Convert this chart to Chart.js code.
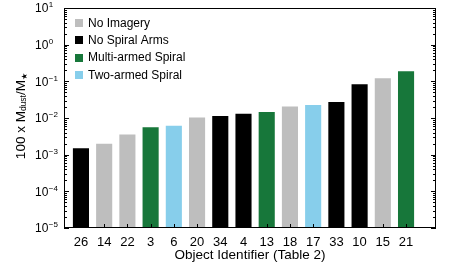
<!DOCTYPE html>
<html>
<head>
<meta charset="utf-8">
<script src="https://cdn.jsdelivr.net/npm/chart.js@4/dist/chart.umd.min.js"></script>
<style>
html,body{margin:0;padding:0;background:#fff;}
#wrap{width:471px;height:269px;position:relative;}
</style>
</head>
<body>
<div id="wrap"><canvas id="c" width="471" height="269"></canvas></div>
<script>
// ---- data ----
const objectIds = ['26','14','22','3','6','20','34','4','13','18','17','33','10','15','21'];
const dustRatio = [1.6e-3, 2.1e-3, 3.8e-3, 6.0e-3, 6.5e-3, 1.1e-2, 1.2e-2, 1.4e-2, 1.55e-2, 2.2e-2, 2.4e-2, 2.9e-2, 8.9e-2, 0.13, 0.20];
const morphology = ['No Spiral Arms','No Imagery','No Imagery','Multi-armed Spiral','Two-armed Spiral','No Imagery','No Spiral Arms','No Spiral Arms','Multi-armed Spiral','No Imagery','Two-armed Spiral','No Spiral Arms','No Spiral Arms','No Imagery','Multi-armed Spiral'];
const legendLabels = ['No Imagery','No Spiral Arms','Multi-armed Spiral','Two-armed Spiral'];
const yTickExponents = ['1','0','-1','-2','-3','-4','-5'];
const xTitle = 'Object Identifier (Table 2)';

// ---- styles ----
const typeColors = {
  'No Imagery':'#bebebe',
  'No Spiral Arms':'#000000',
  'Multi-armed Spiral':'#17773a',
  'Two-armed Spiral':'#87ceeb'
};
const FONT = '"Liberation Sans", Arial, Helvetica, sans-serif';

const points = dustRatio.map((v,i)=>({x:i, y:v}));

const decor = {
  id:'decor',
  afterDraw(chart){
    const ctx = chart.ctx;
    const {left,right,top,bottom} = chart.chartArea;
    const xs = chart.scales.x, ys = chart.scales.y;
    ctx.save();
    ctx.strokeStyle = '#000';
    ctx.lineWidth = 1;
    ctx.strokeRect(left+0.5, top+0.5, right-left-1, bottom-top-1);
    ctx.beginPath();
    for (let e=-5; e<=1; e++){
      const yp = Math.round(ys.getPixelForValue(Math.pow(10,e)))+0.5;
      ctx.moveTo(left, yp); ctx.lineTo(left+5, yp);
      ctx.moveTo(right, yp); ctx.lineTo(right-5, yp);
      if (e<1){
        for (let m=2;m<=9;m++){
          const yq = Math.round(ys.getPixelForValue(m*Math.pow(10,e)))+0.5;
          ctx.moveTo(left, yq); ctx.lineTo(left+3, yq);
          ctx.moveTo(right, yq); ctx.lineTo(right-3, yq);
        }
      }
    }
    objectIds.forEach((id,i)=>{
      const xp = Math.round(xs.getPixelForValue(i))+0.5;
      ctx.moveTo(xp, bottom); ctx.lineTo(xp, bottom-4);
    });
    ctx.stroke();

    ctx.fillStyle = '#000';
    ctx.font = '13px ' + FONT;
    ctx.textAlign = 'center';
    ctx.textBaseline = 'middle';
    objectIds.forEach((id,i)=>{
      ctx.fillText(id, xs.getPixelForValue(i), bottom+14);
    });
    ctx.font = '13.5px ' + FONT;
    ctx.fillText(xTitle, (left+right)/2, bottom+27);

    ctx.textAlign = 'left';
    yTickExponents.forEach(ex=>{
      const yp = ys.getPixelForValue(Math.pow(10, Number(ex)));
      ctx.font = '12px ' + FONT;
      ctx.textBaseline = 'middle';
      ctx.fillText('10', 35, yp+1);
      const w = ctx.measureText('10').width;
      ctx.font = '8px ' + FONT;
      ctx.fillText(ex.replace('-', '\u2212'), 35+w+0.5, yp-3);
    });

    ctx.save();
    ctx.translate(21, (top+bottom)/2 - 2);
    ctx.rotate(-Math.PI/2);
    const parts = [
      {t:'100 x M', f:'13.5px '+FONT, dy:0},
      {t:'dust', f:'8.5px '+FONT, dy:3},
      {t:'/M', f:'13.5px '+FONT, dy:0},
      {t:'\u2605', f:'8px "DejaVu Sans", sans-serif', dy:4}
    ];
    let total = 0;
    parts.forEach(p=>{ ctx.font=p.f; p.w=ctx.measureText(p.t).width; total+=p.w; });
    let cx = -total/2;
    ctx.textAlign='left';
    ctx.textBaseline='middle';
    parts.forEach(p=>{ ctx.font=p.f; ctx.fillText(p.t, cx, p.dy); cx+=p.w; });
    ctx.restore();

    ctx.font = '12px ' + FONT;
    ctx.textBaseline = 'middle';
    legendLabels.forEach((lab,k)=>{
      const cy = top + 14.7 + k*17.4;
      ctx.fillStyle = typeColors[lab];
      ctx.fillRect(75, Math.round(cy-4), 8, 8);
      ctx.fillStyle = '#000';
      ctx.fillText(lab, 88, cy+0.5);
    });
    ctx.restore();
  }
};

new Chart(document.getElementById('c'), {
  type:'bar',
  data:{
    datasets:[{
      data: points,
      backgroundColor: morphology.map(t=>typeColors[t]),
      borderColor: 'rgba(255,255,255,0.45)',
      borderWidth: 1,
      barPercentage: 0.78,
      categoryPercentage: 1.0
    }]
  },
  options:{
    responsive:false,
    animation:false,
    events:[],
    layout:{padding:{left:64, top:8, right:35, bottom:41}},
    plugins:{legend:{display:false}, tooltip:{enabled:false}},
    scales:{
      x:{type:'linear', min:-0.73, max:15.29, offset:false, display:false},
      y:{type:'logarithmic', min:1e-5, max:10, display:false}
    }
  },
  plugins:[decor]
});
</script>
</body>
</html>
